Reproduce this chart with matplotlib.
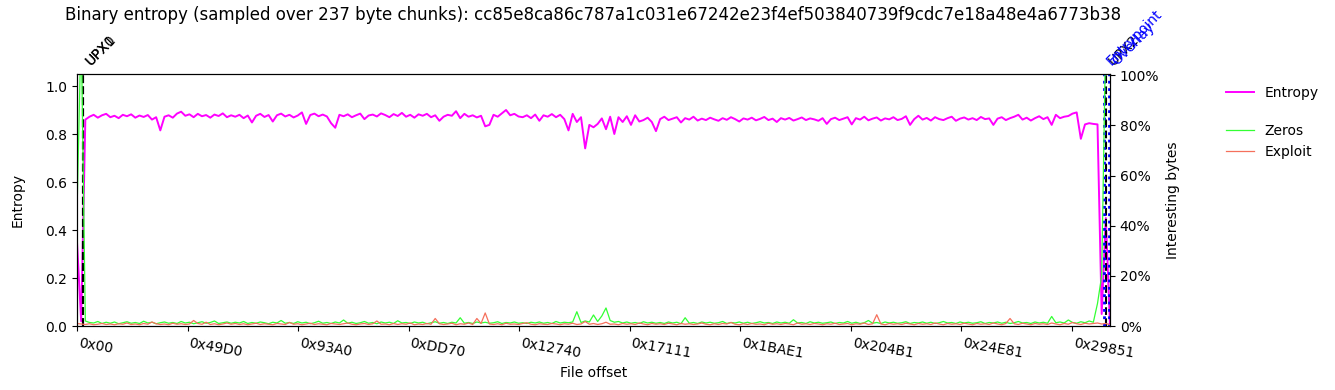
import numpy as np
import matplotlib
matplotlib.use("Agg")
import matplotlib.pyplot as plt
from matplotlib.ticker import PercentFormatter
from matplotlib.transforms import ScaledTranslation

TITLE = ("Binary entropy (sampled over 237 byte chunks): "
         "cc85e8ca86c787a1c031e67242e23f4ef503840739f9cdc7e18a48e4a6773b38")
FILE_SIZE = 176640

tick_labels = ["0x00", "0x49D0", "0x93A0", "0xDD70", "0x12740", "0x17111",
               "0x1BAE1", "0x204B1", "0x24E81", "0x29851"]

entropy = [
    0.35, 0.02, 0.86, 0.872, 0.880, 0.868, 0.878, 0.884, 0.870, 0.876,
    0.866, 0.880, 0.874, 0.882, 0.868, 0.877, 0.871, 0.879, 0.860, 0.870,
    0.815, 0.872, 0.878, 0.868, 0.885, 0.893, 0.876, 0.882, 0.870, 0.884,
    0.874, 0.879, 0.868, 0.881, 0.875, 0.886, 0.870, 0.878, 0.872, 0.880,
    0.866, 0.877, 0.848, 0.876, 0.884, 0.871, 0.879, 0.852, 0.878, 0.885,
    0.873, 0.880, 0.869, 0.877, 0.890, 0.842, 0.879, 0.885, 0.874, 0.881,
    0.873, 0.845, 0.826, 0.880, 0.874, 0.882, 0.870, 0.878, 0.885, 0.862,
    0.877, 0.881, 0.873, 0.886, 0.879, 0.870, 0.883, 0.875, 0.888, 0.872,
    0.880, 0.868, 0.882, 0.876, 0.884, 0.870, 0.878, 0.855, 0.872, 0.880,
    0.876, 0.895, 0.866, 0.884, 0.872, 0.878, 0.869, 0.876, 0.832, 0.838,
    0.880, 0.872, 0.886, 0.900, 0.878, 0.884, 0.873, 0.870, 0.878, 0.866,
    0.881, 0.855, 0.878, 0.872, 0.883, 0.870, 0.880, 0.862, 0.815, 0.884,
    0.850, 0.870, 0.740, 0.838, 0.828, 0.842, 0.865, 0.820, 0.872, 0.800,
    0.870, 0.850, 0.874, 0.838, 0.878, 0.852, 0.858, 0.868, 0.850, 0.812,
    0.862, 0.872, 0.858, 0.864, 0.870, 0.848, 0.866, 0.860, 0.872, 0.856,
    0.864, 0.858, 0.868, 0.861, 0.855, 0.866, 0.859, 0.870, 0.862, 0.852,
    0.865, 0.860, 0.868, 0.857, 0.863, 0.871, 0.858, 0.864, 0.850, 0.866,
    0.860, 0.867, 0.856, 0.862, 0.869, 0.858, 0.865, 0.861, 0.855, 0.866,
    0.842, 0.862, 0.868, 0.858, 0.864, 0.870, 0.840, 0.866, 0.860, 0.872,
    0.857, 0.864, 0.869, 0.856, 0.865, 0.861, 0.870, 0.858, 0.863, 0.874,
    0.838, 0.862, 0.876, 0.860, 0.867, 0.856, 0.870, 0.862, 0.858, 0.866,
    0.872, 0.855, 0.864, 0.869, 0.860, 0.866, 0.858, 0.871, 0.862, 0.865,
    0.838, 0.864, 0.870, 0.858, 0.866, 0.872, 0.880, 0.860, 0.868, 0.856,
    0.866, 0.874, 0.862, 0.870, 0.838, 0.880, 0.866, 0.872, 0.875, 0.885,
    0.890, 0.780, 0.840, 0.845, 0.842, 0.840, 0.05, 0.45, 0.0,
]

zeros = [
    0.45, 1.2, 0.020, 0.014, 0.012, 0.018, 0.010, 0.015, 0.011, 0.016,
    0.009, 0.013, 0.017, 0.011, 0.014, 0.010, 0.019, 0.012, 0.015, 0.009,
    0.013, 0.016, 0.011, 0.014, 0.010, 0.018, 0.012, 0.015, 0.009, 0.013,
    0.017, 0.011, 0.014, 0.020, 0.010, 0.013, 0.016, 0.011, 0.015, 0.012,
    0.018, 0.010, 0.014, 0.011, 0.016, 0.013, 0.009, 0.015, 0.012, 0.022,
    0.011, 0.014, 0.010, 0.017, 0.012, 0.015, 0.009, 0.013, 0.019, 0.011,
    0.014, 0.010, 0.016, 0.012, 0.024, 0.011, 0.015, 0.010, 0.013, 0.018,
    0.011, 0.014, 0.009, 0.016, 0.012, 0.015, 0.010, 0.021, 0.012, 0.014,
    0.010, 0.016, 0.012, 0.015, 0.009, 0.013, 0.017, 0.011, 0.014, 0.010,
    0.015, 0.012, 0.033, 0.011, 0.014, 0.010, 0.016, 0.012, 0.015, 0.011,
    0.013, 0.017, 0.010, 0.014, 0.012, 0.016, 0.011, 0.013, 0.010, 0.015,
    0.012, 0.016, 0.011, 0.014, 0.010, 0.018, 0.012, 0.015, 0.013, 0.016,
    0.057, 0.014, 0.020, 0.016, 0.044, 0.018, 0.040, 0.072, 0.022, 0.015,
    0.018, 0.012, 0.016, 0.011, 0.014, 0.010, 0.017, 0.012, 0.015, 0.011,
    0.014, 0.010, 0.016, 0.012, 0.015, 0.009, 0.033, 0.011, 0.014, 0.010,
    0.016, 0.012, 0.015, 0.011, 0.013, 0.018, 0.010, 0.014, 0.012, 0.016,
    0.011, 0.015, 0.010, 0.013, 0.017, 0.012, 0.014, 0.010, 0.016, 0.012,
    0.015, 0.011, 0.025, 0.012, 0.014, 0.010, 0.017, 0.012, 0.015, 0.011,
    0.013, 0.016, 0.010, 0.014, 0.012, 0.018, 0.011, 0.015, 0.010, 0.013,
    0.022, 0.011, 0.014, 0.010, 0.016, 0.012, 0.015, 0.011, 0.013, 0.017,
    0.010, 0.014, 0.012, 0.016, 0.011, 0.015, 0.010, 0.013, 0.018, 0.012,
    0.014, 0.010, 0.016, 0.012, 0.015, 0.011, 0.013, 0.017, 0.010, 0.014,
    0.012, 0.016, 0.011, 0.015, 0.010, 0.013, 0.018, 0.012, 0.014, 0.010,
    0.016, 0.012, 0.015, 0.011, 0.038, 0.013, 0.016, 0.012, 0.024, 0.014,
    0.011, 0.017, 0.013, 0.020, 0.015, 0.090, 0.200, 1.2, 1.2,
]

exploit = [
    0.010, 0.008, 0.006, 0.009, 0.005, 0.007, 0.010, 0.006, 0.008, 0.005,
    0.009, 0.007, 0.012, 0.006, 0.008, 0.005, 0.010, 0.007, 0.016, 0.009,
    0.006, 0.008, 0.005, 0.011, 0.007, 0.009, 0.006, 0.008, 0.022, 0.010,
    0.007, 0.015, 0.006, 0.009, 0.005, 0.008, 0.012, 0.007, 0.010, 0.006,
    0.009, 0.005, 0.008, 0.011, 0.006, 0.009, 0.007, 0.005, 0.010, 0.008,
    0.006, 0.014, 0.007, 0.009, 0.005, 0.008, 0.011, 0.006, 0.009, 0.007,
    0.005, 0.010, 0.008, 0.006, 0.009, 0.012, 0.007, 0.005, 0.008, 0.010,
    0.006, 0.009, 0.020, 0.007, 0.008, 0.005, 0.010, 0.006, 0.009, 0.007,
    0.012, 0.005, 0.008, 0.006, 0.010, 0.007, 0.030, 0.009, 0.006, 0.008,
    0.011, 0.005, 0.009, 0.007, 0.012, 0.006, 0.030, 0.010, 0.052, 0.008,
    0.006, 0.009, 0.005, 0.011, 0.007, 0.008, 0.006, 0.010, 0.013, 0.007,
    0.005, 0.009, 0.007, 0.006, 0.010, 0.008, 0.005, 0.009, 0.007, 0.011,
    0.006, 0.008, 0.018, 0.007, 0.010, 0.006, 0.009, 0.015, 0.007, 0.008,
    0.005, 0.010, 0.007, 0.009, 0.006, 0.012, 0.008, 0.005, 0.010, 0.007,
    0.009, 0.006, 0.011, 0.008, 0.005, 0.010, 0.007, 0.009, 0.006, 0.008,
    0.012, 0.007, 0.005, 0.009, 0.006, 0.010, 0.008, 0.014, 0.007, 0.005,
    0.009, 0.006, 0.010, 0.007, 0.008, 0.005, 0.011, 0.007, 0.009, 0.006,
    0.010, 0.008, 0.005, 0.012, 0.007, 0.009, 0.006, 0.010, 0.008, 0.005,
    0.009, 0.007, 0.011, 0.006, 0.008, 0.010, 0.005, 0.009, 0.007, 0.012,
    0.006, 0.009, 0.045, 0.008, 0.005, 0.010, 0.007, 0.009, 0.006, 0.011,
    0.008, 0.005, 0.010, 0.007, 0.009, 0.006, 0.012, 0.008, 0.005, 0.010,
    0.007, 0.009, 0.006, 0.011, 0.008, 0.005, 0.010, 0.007, 0.009, 0.006,
    0.012, 0.008, 0.005, 0.010, 0.030, 0.009, 0.006, 0.011, 0.008, 0.005,
    0.010, 0.007, 0.009, 0.006, 0.012, 0.008, 0.005, 0.010, 0.007, 0.014,
    0.009, 0.006, 0.011, 0.008, 0.010, 0.012, 0.008, 0.010, 0.005,
]

section_names = ["UPX0", "UPX1", "UPX2"]
section_offsets = [1024, 1024, 176000]
marker_names = ["Entrypoint", "Overlay"]
marker_offsets = [175600, 176450]

fig = plt.figure(figsize=(13.35, 3.9), dpi=100)
ax1 = fig.add_axes([77 / 1335, 1 - 326 / 390, (1110 - 77) / 1335, (326 - 74) / 390])
ax2 = ax1.twinx()

x_e = np.linspace(0, FILE_SIZE, len(entropy))
x_z = np.linspace(0, FILE_SIZE, len(zeros))
x_x = np.linspace(0, FILE_SIZE, len(exploit))

l_ent, = ax1.plot(x_e, entropy, color="#ff00ff", lw=1.4, label="Entropy")
l_z, = ax2.plot(x_z, zeros, color="#33ff33", lw=0.9, label="Zeros")
l_x, = ax2.plot(x_x, exploit, color="#f5705c", lw=0.9, label="Exploit")

ax1.set_xlim(0, FILE_SIZE)
ax1.set_ylim(0, 1.05)
ax2.set_ylim(0, 1.005)
ax2.yaxis.set_major_formatter(PercentFormatter(1.0, decimals=0))
ax2.set_yticks([0, 0.2, 0.4, 0.6, 0.8, 1.0])

tick_pos = [int(t, 16) for t in tick_labels]
ax1.set_xticks(tick_pos)
ax1.set_xticklabels(tick_labels, rotation=-10, ha="left", rotation_mode="anchor")
ax1.tick_params(axis="x", labelsize=10)
offset = ScaledTranslation(3 / 100, 0, fig.dpi_scale_trans)
for lab in ax1.get_xticklabels():
    lab.set_transform(lab.get_transform() + offset)

for name, off in zip(section_names, section_offsets):
    ax1.axvline(off, color="black", ls="--", lw=1.5)
    ax1.text(off, 1.075, name, rotation=45, ha="left", va="bottom",
             fontsize=10, color="black")
for name, off in zip(marker_names, marker_offsets):
    ax1.axvline(off, color="blue", ls=":", lw=2)
    ax1.text(off, 1.075, name, rotation=45, ha="left", va="bottom",
             fontsize=10, color="blue")

ax1.set_xlabel("File offset", fontsize=10)
ax1.set_ylabel("Entropy", fontsize=10, labelpad=15)
ax2.set_ylabel("Interesting bytes", fontsize=10, labelpad=5)

fig.suptitle(TITLE, fontsize=12, x=(77 + 1110) / 2 / 1335, y=0.985)

ax1.legend(handles=[l_ent], loc="upper left", bbox_to_anchor=(1.1, 1.002),
           frameon=False, fontsize=10)
ax2.legend(handles=[l_z, l_x], loc="upper left", bbox_to_anchor=(1.1, 0.852),
           frameon=False, fontsize=10)

fig.savefig("out.png", dpi=100)
